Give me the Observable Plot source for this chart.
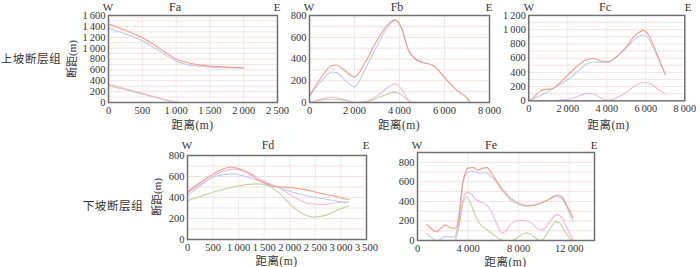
<!DOCTYPE html>
<html><head><meta charset="utf-8">
<script src="https://cdn.jsdelivr.net/npm/d3@7"></script>
<script src="https://cdn.jsdelivr.net/npm/@observablehq/plot@0.6"></script>
<style>
body{margin:0;background:#fff;}
#wrap{position:relative;width:700px;height:267px;overflow:hidden;font-family:"Liberation Serif","Noto Sans CJK SC",serif;color:#333;}
.p{position:absolute;}
.t{position:absolute;transform:translate(-50%,-50%);white-space:nowrap;line-height:1;}
</style></head>
<body><div id="wrap"></div>
<script>
// ---------- data ----------
const panelNames = ["Fa","Fb","Fc","Fd","Fe"];
const groupLabels = ["上坡断层组","下坡断层组"];
const xTitle = "距离(m)";
const yTitle = "断距(m)";

const faXTicks = [0,500,1000,1500,2000,2500];
const faYTicks = [0,200,400,600,800,1000,1200,1400,1600];
const faRed   = [[0,1445],[250,1330],[500,1190],[750,1000],[1000,800],[1250,710],[1500,670],[1750,650],[2000,640]];
const faBlue  = [[0,1365],[250,1260],[500,1135],[750,950],[1000,760],[1250,680],[1500,650],[1750,640],[2000,635]];
const faPink  = [[0,335],[250,252],[500,168],[750,82],[1000,12],[1100,0],[2000,0]];
const faGreen = [[0,310],[250,235],[500,155],[750,75],[1000,6],[1100,0],[2000,0]];

const fbXTicks = [0,2000,4000,6000,8000];
const fbYTicks = [0,200,400,600,800];
const fbRed   = [[0,60],[500,225],[1000,340],[1200,345],[1500,305],[2000,235],[2500,380],[3000,570],[3500,720],[3800,760],[4100,680],[4400,480],[4700,400],[5000,370],[5500,340],[6000,230],[6500,120],[7000,40],[7150,0]];
const fbBlue  = [[0,60],[500,190],[1000,280],[1200,275],[1500,220],[2000,145],[2500,320],[3000,520],[3500,700],[3800,755],[4100,680],[4400,480],[4700,400],[5000,370],[5500,340],[6000,230],[6500,120],[7000,40],[7150,0]];
const fbPink  = [[0,0],[500,30],[1000,50],[1500,30],[2000,0],[2500,10],[3000,60],[3500,140],[3800,172],[4100,120],[4400,20],[4600,0],[4700,0]];
const fbGreen = [[0,0],[500,20],[1000,30],[1500,20],[2000,0],[2500,5],[3000,40],[3500,80],[3800,95],[4100,70],[4400,15],[4600,0],[4700,0]];

const fcXTicks = [0,2000,4000,6000,8000];
const fcYTicks = [0,200,400,600,800,1000,1200];
const fcRed   = [[0,0],[300,60],[600,140],[900,160],[1200,170],[1500,230],[2000,360],[2500,490],[3000,580],[3300,595],[3700,560],[4100,550],[4500,620],[5000,760],[5500,930],[5900,990],[6200,900],[6600,640],[7000,370]];
const fcBlue  = [[0,0],[500,60],[1000,130],[1500,210],[2000,300],[2500,410],[3000,520],[3300,545],[3700,540],[4100,545],[4500,620],[5000,740],[5500,880],[5900,925],[6200,850],[6600,620],[7000,370]];
const fcPink  = [[0,0],[1000,0],[2000,20],[2500,60],[3000,105],[3300,100],[3700,40],[4000,10],[4300,20],[5000,120],[5500,220],[5900,260],[6300,230],[6700,150],[7000,100]];
const fcGreen = [[0,0],[2000,0],[4000,2],[6000,3],[7000,0]];

const fdXTicks = [0,500,1000,1500,2000,2500,3000,3500];
const fdYTicks = [0,200,400,600,800];
const fdRed   = [[0,455],[300,560],[600,650],[850,690],[1100,655],[1400,565],[1700,505],[2000,495],[2300,475],[2600,440],[2900,410],[3150,380]];
const fdBlue  = [[0,440],[300,540],[600,610],[900,625],[1200,590],[1500,540],[1800,490],[2100,445],[2400,410],[2700,385],[3000,360],[3150,355]];
const fdPink  = [[0,415],[300,530],[600,630],[900,670],[1200,635],[1500,555],[1800,490],[2100,400],[2400,340],[2700,335],[3000,355],[3150,355]];
const fdGreen = [[0,370],[300,420],[600,465],[900,500],[1200,525],[1400,530],[1600,510],[1800,440],[2000,340],[2200,260],[2450,215],[2700,230],[2950,285],[3150,320]];

const feXTicks = [0,4000,8000,12000];
const feYTicks = [0,200,400,600,800];
const feRed   = [[730,165],[1100,120],[1500,90],[1900,130],[2200,160],[2600,130],[3000,125],[3300,250],[3600,600],[4000,740],[4400,745],[4800,720],[5200,740],[5500,745],[5900,680],[6400,580],[7000,480],[7600,410],[8200,370],[8700,355],[9200,360],[9800,385],[10400,420],[11000,465],[11400,450],[11800,360],[12300,235]];
const feBlue  = [[730,70],[1100,30],[1500,0],[1900,20],[2200,40],[2800,35],[3000,50],[3300,300],[3600,600],[4000,700],[4400,710],[4800,690],[5500,690],[5900,645],[6400,565],[7000,460],[7600,390],[8200,360],[8700,350],[9200,360],[9800,385],[10400,420],[11000,450],[11400,430],[11800,340],[12300,195]];
const fePink  = [[3000,0],[3300,200],[3600,420],[3900,490],[4200,480],[4600,420],[5000,395],[5500,360],[5900,280],[6300,160],[6700,75],[7000,100],[7500,180],[8000,205],[8500,205],[9000,180],[9500,120],[9900,110],[10400,180],[11000,265],[11400,240],[11800,130],[12300,15]];
const feGreen = [[3000,0],[3300,150],[3600,380],[3900,450],[4200,380],[4600,250],[5000,160],[5500,110],[6000,60],[6500,15],[6800,0],[7500,0],[8000,40],[8600,80],[9000,60],[9500,10],[9800,0],[10400,100],[10900,190],[11200,185],[11600,100],[12000,30],[12300,0]];

const colors = {red:"#f49c88", blue:"#bccded", pink:"#efb8db", green:"#bdd3a0"};

// ---------- drawing ----------
const wrap = document.getElementById("wrap");
const fmt = d => d3.format(",")(d).replace(/,/g, "\u2009");

function addText(txt, x, y, size, extra){
  const d = document.createElement("div");
  d.className = "t";
  d.textContent = txt;
  d.style.left = x + "px"; d.style.top = y + "px";
  d.style.fontSize = size + "px";
  if (extra) Object.assign(d.style, extra);
  wrap.appendChild(d);
}

function panel(cfg){
  const ml = 42, mr = 16, mt = 3, mb = 18;
  const width = (cfg.fr - cfg.fl) + ml + mr;
  const height = (cfg.fb - cfg.ft) + mt + mb;
  const step = cfg.yTicks[1] - cfg.yTicks[0];
  const minor = d3.range(step/2, cfg.yDomain[1] + 1, step/2);
  const series = [[cfg.green,"green"],[cfg.pink,"pink"],[cfg.blue,"blue"],[cfg.red,"red"]];
  const chart = Plot.plot({
    width, height, marginLeft: ml, marginRight: mr, marginTop: mt, marginBottom: mb,
    x: {domain: cfg.xDomain},
    y: {domain: cfg.yDomain},
    style: {fontFamily: '"Liberation Serif", serif', fontSize: "10.5px", color: "#333", background: "transparent", overflow: "visible"},
    marks: [
      Plot.gridX(cfg.xTicks, {stroke: "#ebebeb", strokeOpacity: 1}),
      Plot.gridY(minor, {stroke: "#f6e0e0", strokeOpacity: 1}),
      ...series.map(([data, c]) => Plot.line(data, {x: d => d[0], y: d => d[1], stroke: colors[c], strokeWidth: 1.1, curve: "monotone-x", clip: true})),
      Plot.frame({stroke: "#707070", strokeWidth: 1.5}),
      Plot.axisX(cfg.xTicks, {tickSize: 0, tickPadding: 4, tickFormat: fmt, label: null}),
      Plot.axisY(cfg.yTicks, {tickSize: 0, tickPadding: 3, tickFormat: fmt, label: null})
    ]
  });
  const box = document.createElement("div");
  box.className = "p";
  box.style.left = (cfg.fl - ml) + "px";
  box.style.top = (cfg.ft - mt) + "px";
  box.appendChild(chart);
  wrap.appendChild(box);
  addText("W", cfg.fl, cfg.titleY, 11);
  addText(cfg.name, cfg.titleX, cfg.titleY, 12);
  addText("E", cfg.fr, cfg.titleY, 11);
  addText(xTitle, (cfg.fl + cfg.fr)/2, cfg.xTitleY, 11.5, {letterSpacing: "0.5px"});
  if (cfg.yLabelX) addText(yTitle, cfg.yLabelX, (cfg.ft + cfg.fb)/2, 11, {transform: "translate(-50%,-50%) rotate(-90deg)"});
}

panel({name: panelNames[0], fl:108, fr:277, ft:15, fb:102, xDomain:[0,2500], yDomain:[0,1600], xTicks: faXTicks, yTicks: faYTicks,
  red: faRed, blue: faBlue, pink: faPink, green: faGreen, titleX:175, titleY:7, xTitleY:126, yLabelX:72});
panel({name: panelNames[1], fl:309, fr:489, ft:15, fb:102, xDomain:[0,8000], yDomain:[0,800], xTicks: fbXTicks, yTicks: fbYTicks,
  red: fbRed, blue: fbBlue, pink: fbPink, green: fbGreen, titleX:397, titleY:7, xTitleY:126});
panel({name: panelNames[2], fl:529, fr:688, ft:15, fb:102, xDomain:[0,8000], yDomain:[0,1200], xTicks: fcXTicks, yTicks: fcYTicks,
  red: fcRed, blue: fcBlue, pink: fcPink, green: fcGreen, titleX:605, titleY:7, xTitleY:126});
panel({name: panelNames[3], fl:187, fr:366, ft:155, fb:239, xDomain:[0,3500], yDomain:[0,800], xTicks: fdXTicks, yTicks: fdYTicks,
  red: fdRed, blue: fdBlue, pink: fdPink, green: fdGreen, titleX:268, titleY:145, xTitleY:262, yLabelX:157});
panel({name: panelNames[4], fl:417, fr:594, ft:152, fb:240, xDomain:[0,14000], yDomain:[0,900], xTicks: feXTicks, yTicks: feYTicks,
  red: feRed, blue: feBlue, pink: fePink, green: feGreen, titleX:491, titleY:145, xTitleY:263});

addText(groupLabels[0], 31, 60, 11.5, {letterSpacing: "0.6px"});
addText(groupLabels[1], 113, 207, 11.5, {letterSpacing: "0.6px"});
</script></body></html>
